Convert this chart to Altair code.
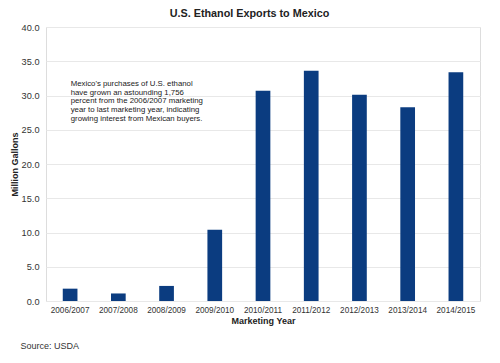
import altair as alt
import pandas as pd

years = ["2006/2007", "2007/2008", "2008/2009", "2009/2010", "2010/2011",
         "2011/2012", "2012/2013", "2013/2014", "2014/2015"]
gallons = [1.8, 1.1, 2.2, 10.4, 30.7, 33.6, 30.1, 28.3, 33.4]
y_ticks = [0, 5, 10, 15, 20, 25, 30, 35, 40]
note_lines = ["Mexico's purchases of U.S. ethanol",
              "have grown an astounding 1,756",
              "percent from the 2006/2007 marketing",
              "year to last marketing year, indicating",
              "growing interest from Mexican buyers."]
source_text = "Source: USDA"
title_text = "U.S. Ethanol Exports to Mexico"

FONT = "Liberation Sans, Arial, sans-serif"
df = pd.DataFrame({"year": years, "gallons": gallons})

bars = alt.Chart(df).mark_bar(color="#0b3c80", width=14.7).encode(
    x=alt.X("year:N", sort=years,
            scale=alt.Scale(paddingInner=0.69, paddingOuter=0.345),
            axis=alt.Axis(title="Marketing Year", labelAngle=0, labelFontSize=8.2,
                          labelColor="#333333", labelFont=FONT, labelPadding=5,
                          titleFont=FONT, titleFontSize=9, titleFontWeight="bold",
                          titleColor="#222222", titlePadding=3,
                          domain=False, ticks=False)),
    y=alt.Y("gallons:Q",
            scale=alt.Scale(domain=[0, 40], nice=False),
            axis=alt.Axis(title="Million Gallons", values=y_ticks, format=".1f",
                          labelFontSize=9.2, labelColor="#333333", labelFont=FONT,
                          labelPadding=7, titleFont=FONT, titleFontSize=9,
                          titleFontWeight="bold", titleColor="#222222",
                          titleX=-32, titleY=137, titleAngle=-90,
                          titleBaseline="middle", titleAlign="center",
                          domain=False, ticks=False, gridColor="#e8e8e8",
                          gridWidth=1)),
)

note = alt.Chart(pd.DataFrame({"t": [note_lines]})).mark_text(
    align="left", baseline="top", font=FONT, fontSize=7.8, lineHeight=8.7,
    color="#1a1a1a").encode(
    text="t", x=alt.value(24.7), y=alt.value(53))

source = alt.Chart(pd.DataFrame({"t": [source_text]})).mark_text(
    align="left", baseline="middle", font=FONT, fontSize=9, color="#333333").encode(
    text="t", x=alt.value(-25.5), y=alt.value(318.7))

chart = alt.layer(bars, note, source).properties(
    width=434, height=274,
    title=alt.TitleParams(title_text, font=FONT, fontSize=10.8, fontWeight="bold",
                          color="#222222", frame="group", anchor="middle",
                          dx=-13.5, offset=4.5),
    autosize=alt.AutoSizeParams(type="none"),
    padding={"left": 38, "top": 19, "right": 12, "bottom": 54},
).configure_view(stroke=None).configure(background="white")

chart.save("out.html", embed_options={"renderer": "svg", "actions": False})
